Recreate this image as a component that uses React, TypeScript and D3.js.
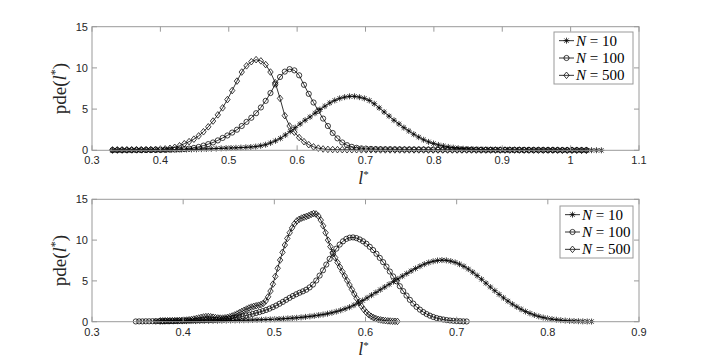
import React from "react";
import * as d3 from "d3";

// tick labels
const topXTicks = [0.3, 0.4, 0.5, 0.6, 0.7, 0.8, 0.9, 1.0, 1.1];
const bottomXTicks = [0.3, 0.4, 0.5, 0.6, 0.7, 0.8, 0.9];
const yTicks = [0, 5, 10, 15];
const legendLabels = ["10", "100", "500"];

// ksdensity grids (100 pts each) : [min, max]
const topRange10 = [0.33, 1.045];
const topRange100 = [0.33, 1.023];
const topRange500 = [0.33, 1.023];
const botRange10 = [0.37, 0.848];
const botRange100 = [0.348, 0.711];
const botRange500 = [0.375, 0.635];

// top panel densities
const top10 = [
  0.0, 0.0, 0.01, 0.01, 0.01, 0.02, 0.02, 0.03, 0.04, 0.05,
  0.05, 0.06, 0.07, 0.08, 0.09, 0.1, 0.11, 0.12, 0.14, 0.16,
  0.18, 0.21, 0.24, 0.26, 0.28, 0.3, 0.33, 0.36, 0.4, 0.45,
  0.55, 0.68, 0.9, 1.15, 1.45, 1.85, 2.3, 2.75, 3.2, 3.65,
  4.05, 4.5, 4.95, 5.35, 5.75, 6.05, 6.3, 6.45, 6.55, 6.55,
  6.45, 6.3, 6.05, 5.65, 5.15, 4.65, 4.15, 3.65, 3.2, 2.75,
  2.35, 1.95, 1.6, 1.28, 1.02, 0.82, 0.65, 0.52, 0.41, 0.32,
  0.25, 0.19, 0.15, 0.12, 0.1, 0.08, 0.07, 0.06, 0.05, 0.05,
  0.05, 0.04, 0.04, 0.04, 0.04, 0.03, 0.03, 0.03, 0.03, 0.03,
  0.02, 0.02, 0.02, 0.02, 0.02, 0.01, 0.01, 0.01, 0.01, 0.0,
];
const top100 = [
  0.01, 0.01, 0.01, 0.01, 0.02, 0.02, 0.02, 0.03, 0.03, 0.04,
  0.04, 0.05, 0.07, 0.09, 0.11, 0.15, 0.21, 0.29, 0.41, 0.57,
  0.75, 0.95, 1.2, 1.5, 1.8, 2.15, 2.5, 2.95, 3.45, 3.95,
  4.5, 5.2, 6.0, 6.95, 8.0, 8.9, 9.55, 9.85, 9.7, 9.1,
  7.95, 6.85, 5.8, 4.8, 3.85, 2.95, 2.1, 1.45, 0.95, 0.62,
  0.42, 0.3, 0.23, 0.19, 0.17, 0.15, 0.14, 0.13, 0.13, 0.12,
  0.12, 0.11, 0.11, 0.1, 0.1, 0.1, 0.09, 0.09, 0.09, 0.08,
  0.08, 0.08, 0.08, 0.07, 0.07, 0.07, 0.07, 0.06, 0.06, 0.06,
  0.06, 0.05, 0.05, 0.05, 0.05, 0.05, 0.04, 0.04, 0.04, 0.04,
  0.03, 0.03, 0.03, 0.03, 0.02, 0.02, 0.02, 0.02, 0.01, 0.01,
];
const top500 = [
  0.05, 0.06, 0.06, 0.07, 0.07, 0.08, 0.08, 0.09, 0.1, 0.11,
  0.13, 0.17, 0.24, 0.36, 0.55, 0.8, 1.05, 1.35, 1.75, 2.25,
  2.85, 3.55, 4.3, 5.15, 6.15, 7.25, 8.4, 9.5, 10.25, 10.75,
  11.0, 10.85, 10.4, 9.5, 8.2, 6.3, 4.2, 2.95, 2.2, 1.55,
  1.05, 0.68, 0.42, 0.26, 0.16, 0.11, 0.09, 0.08, 0.08, 0.07,
  0.07, 0.07, 0.06, 0.06, 0.06, 0.06, 0.05, 0.05, 0.05, 0.05,
  0.05, 0.05, 0.05, 0.05, 0.05, 0.05, 0.04, 0.04, 0.04, 0.04,
  0.04, 0.04, 0.04, 0.04, 0.04, 0.04, 0.03, 0.03, 0.03, 0.03,
  0.03, 0.03, 0.03, 0.03, 0.03, 0.03, 0.02, 0.02, 0.02, 0.02,
  0.02, 0.02, 0.02, 0.02, 0.01, 0.01, 0.01, 0.01, 0.01, 0.01,
];

// bottom panel densities
const bot10 = [
  0.04, 0.04, 0.05, 0.05, 0.06, 0.06, 0.07, 0.07, 0.08, 0.08,
  0.09, 0.1, 0.1, 0.11, 0.12, 0.13, 0.14, 0.15, 0.16, 0.17,
  0.18, 0.19, 0.21, 0.22, 0.24, 0.26, 0.28, 0.3, 0.33, 0.36,
  0.4, 0.44, 0.48, 0.53, 0.59, 0.65, 0.72, 0.8, 0.88, 0.98,
  1.1, 1.24, 1.4, 1.58, 1.78, 2.02, 2.3, 2.6, 2.92, 3.25,
  3.58, 3.92, 4.25, 4.58, 4.92, 5.25, 5.58, 5.9, 6.22, 6.52,
  6.8, 7.05, 7.25, 7.4, 7.5, 7.55, 7.52, 7.42, 7.27, 7.05,
  6.78, 6.45, 6.07, 5.65, 5.2, 4.72, 4.25, 3.8, 3.35, 2.92,
  2.52, 2.15, 1.82, 1.52, 1.25, 1.02, 0.82, 0.65, 0.51, 0.4,
  0.31, 0.24, 0.18, 0.14, 0.1, 0.08, 0.06, 0.04, 0.03, 0.02,
];
const bot100 = [
  0.03, 0.04, 0.04, 0.05, 0.05, 0.06, 0.06, 0.07, 0.07, 0.08,
  0.08, 0.09, 0.1, 0.11, 0.12, 0.13, 0.14, 0.15, 0.16, 0.18,
  0.19, 0.21, 0.22, 0.24, 0.26, 0.28, 0.31, 0.35, 0.4, 0.45,
  0.51, 0.58, 0.66, 0.76, 0.86, 0.96, 1.07, 1.18, 1.3, 1.44,
  1.6, 1.78, 1.98, 2.2, 2.43, 2.68, 2.92, 3.15, 3.36, 3.55,
  3.72, 3.92, 4.2, 4.55, 5.05, 5.65, 6.3, 7.0, 7.7, 8.35,
  8.95, 9.45, 9.85, 10.15, 10.3, 10.33, 10.25, 10.08, 9.85, 9.55,
  9.18, 8.78, 8.32, 7.82, 7.3, 6.75, 6.15, 5.55, 4.95, 4.35,
  3.75, 3.2, 2.68, 2.22, 1.82, 1.48, 1.18, 0.94, 0.74, 0.58,
  0.45, 0.35, 0.27, 0.2, 0.15, 0.11, 0.08, 0.06, 0.04, 0.03,
];
const bot500 = [
  0.1, 0.1, 0.11, 0.11, 0.12, 0.12, 0.13, 0.14, 0.15, 0.16,
  0.18, 0.2, 0.23, 0.27, 0.32, 0.38, 0.45, 0.52, 0.58, 0.62,
  0.63, 0.6, 0.55, 0.5, 0.46, 0.44, 0.44, 0.47, 0.52, 0.6,
  0.7, 0.82, 0.95, 1.1, 1.25, 1.4, 1.55, 1.68, 1.79, 1.88,
  1.95, 2.02, 2.1, 2.25, 2.55, 3.05, 3.75, 4.6, 5.55, 6.55,
  7.55, 8.5, 9.4, 10.2, 10.9, 11.5, 12.0, 12.35, 12.55, 12.7,
  12.8, 12.9, 13.0, 13.15, 13.25, 13.2, 12.95, 12.45, 11.75, 10.9,
  10.0, 9.2, 8.5, 7.85, 7.25, 6.7, 6.15, 5.6, 5.05, 4.5,
  3.95, 3.4, 2.85, 2.35, 1.9, 1.5, 1.15, 0.88, 0.66, 0.5,
  0.38, 0.29, 0.22, 0.17, 0.13, 0.1, 0.08, 0.06, 0.05, 0.04,
];

const grid = (r: number[], n: number) =>
  d3.range(n).map((i) => r[0] + ((r[1] - r[0]) * i) / (n - 1));

const AXIS = "#9a9a9a";
const TXT = "#262626";
const SANS = "'Liberation Sans', Arial, Helvetica, sans-serif";
const SERIF = "'Liberation Serif', 'Times New Roman', serif";

const Marker = ({ kind, x, y }: { kind: string; x: number; y: number }) => {
  if (kind === "star")
    return (
      <path
        transform={`translate(${x},${y})`}
        d="M-3,0H3M0,-3V3M-2.2,-2.2L2.2,2.2M-2.2,2.2L2.2,-2.2"
        stroke="#000"
        strokeWidth={0.75}
        fill="none"
      />
    );
  if (kind === "circle")
    return <circle cx={x} cy={y} r={2.6} stroke="#000" strokeWidth={0.75} fill="none" />;
  return (
    <path
      transform={`translate(${x},${y})`}
      d="M0,-3.3L2.7,0L0,3.3L-2.7,0Z"
      stroke="#000"
      strokeWidth={0.75}
      fill="none"
    />
  );
};

type Series = { range: number[]; values: number[]; marker: string };

const Panel = ({
  xDomain,
  xTicks,
  top,
  bottom,
  series,
  legend,
}: {
  xDomain: number[];
  xTicks: number[];
  top: number;
  bottom: number;
  series: Series[];
  legend: { x: number; y: number; w: number; h: number };
}) => {
  const left = 92;
  const right = 639;
  const x = d3.scaleLinear().domain(xDomain).range([left, right]);
  const y = d3.scaleLinear().domain([0, 15]).range([bottom, top]);
  const line = d3
    .line<[number, number]>()
    .x((d) => x(d[0]))
    .y((d) => y(d[1]));
  const tl = 5;
  const rowH = legend.h / 3;

  return (
    <g>
      {/* data */}
      {series.map((s, k) => {
        const xs = grid(s.range, s.values.length);
        const pts: [number, number][] = xs.map((v, i) => [v, s.values[i]]);
        return (
          <g key={k}>
            <path d={line(pts) || ""} fill="none" stroke="#000" strokeWidth={0.8} />
            {pts.map((p, i) => (
              <Marker key={i} kind={s.marker} x={x(p[0])} y={y(p[1])} />
            ))}
          </g>
        );
      })}

      {/* box */}
      <rect x={left} y={top} width={right - left} height={bottom - top} fill="none" stroke={AXIS} strokeWidth={1} />
      {xTicks.map((t) => (
        <g key={t}>
          <line x1={x(t)} x2={x(t)} y1={bottom} y2={bottom - tl} stroke={AXIS} />
          <line x1={x(t)} x2={x(t)} y1={top} y2={top + tl} stroke={AXIS} />
          <text x={x(t)} y={bottom + 14} textAnchor="middle" fontFamily={SANS} fontSize={11} fill={TXT}>
            {String(+t.toFixed(1))}
          </text>
        </g>
      ))}
      {yTicks.map((t) => (
        <g key={t}>
          <line x1={left} x2={left + tl} y1={y(t)} y2={y(t)} stroke={AXIS} />
          <line x1={right} x2={right - tl} y1={y(t)} y2={y(t)} stroke={AXIS} />
          <text x={left - 4} y={y(t) + 4} textAnchor="end" fontFamily={SANS} fontSize={11} fill={TXT}>
            {t}
          </text>
        </g>
      ))}

      {/* axis labels */}
      <text x={(left + right) / 2 - 2} y={bottom + 33.5} textAnchor="middle" fontFamily={SERIF} fontSize={18} fill={TXT}>
        <tspan fontStyle="italic">l</tspan>
        <tspan fontSize={11} dy={-6}>*</tspan>
      </text>
      <text
        transform={`translate(66,${(top + bottom) / 2}) rotate(-90)`}
        textAnchor="middle"
        fontFamily={SERIF}
        fontSize={19}
        fill={TXT}
      >
        pde(<tspan fontStyle="italic">l</tspan>
        <tspan fontSize={12} dy={-7}>*</tspan>
        <tspan dy={7}>)</tspan>
      </text>

      {/* legend */}
      <rect x={legend.x} y={legend.y} width={legend.w} height={legend.h} fill="#fff" stroke={AXIS} strokeWidth={1} />
      {series.map((s, k) => {
        const cy = legend.y + rowH * (k + 0.5);
        return (
          <g key={k}>
            <line x1={legend.x + 5} x2={legend.x + 20} y1={cy} y2={cy} stroke="#000" strokeWidth={0.8} />
            <Marker kind={s.marker} x={legend.x + 12.5} y={cy} />
            <text x={legend.x + 22} y={cy + 5} fontFamily={SERIF} fontSize={15} fill="#000">
              <tspan fontStyle="italic">N</tspan>
              <tspan>{" = " + legendLabels[k]}</tspan>
            </text>
          </g>
        );
      })}
    </g>
  );
};

export default function App() {
  const topSeries: Series[] = [
    { range: topRange10, values: top10, marker: "star" },
    { range: topRange100, values: top100, marker: "circle" },
    { range: topRange500, values: top500, marker: "diamond" },
  ];
  const botSeries: Series[] = [
    { range: botRange10, values: bot10, marker: "star" },
    { range: botRange100, values: bot100, marker: "circle" },
    { range: botRange500, values: bot500, marker: "diamond" },
  ];
  return (
    <svg
      width={706}
      height={362}
      style={{ position: "absolute", left: 0, top: 0, background: "#fff" }}
    >
      <rect width={706} height={362} fill="#fff" />
      <Panel
        xDomain={[0.3, 1.1]}
        xTicks={topXTicks}
        top={26.7}
        bottom={150.3}
        series={topSeries}
        legend={{ x: 554, y: 32, w: 79, h: 52 }}
      />
      <Panel
        xDomain={[0.3, 0.9]}
        xTicks={bottomXTicks}
        top={199.3}
        bottom={321.7}
        series={botSeries}
        legend={{ x: 560, y: 206, w: 73, h: 52 }}
      />
    </svg>
  );
}
